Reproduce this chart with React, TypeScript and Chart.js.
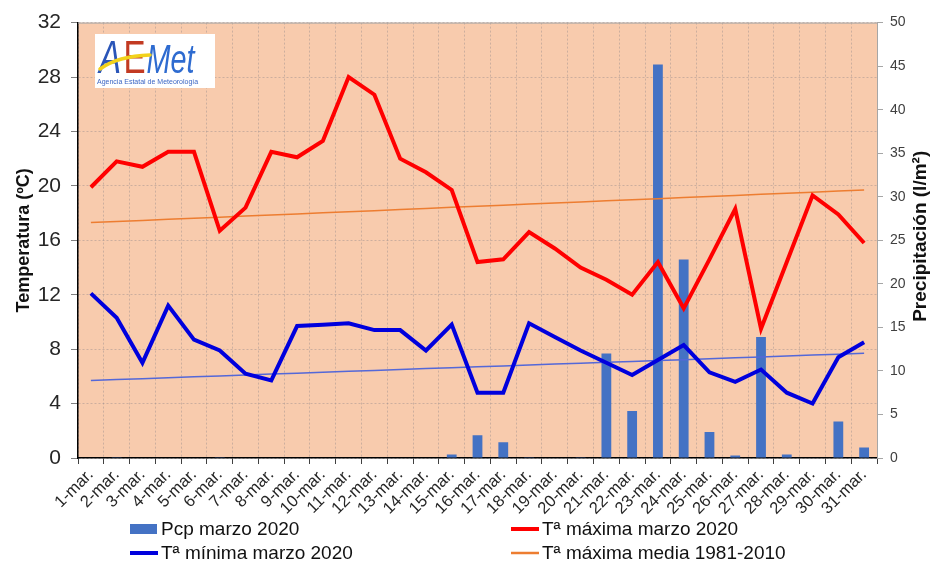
import React, { useEffect, useRef } from 'react';
import { Chart, registerables } from 'chart.js';

Chart.register(...registerables);

const days = [
  '1-mar.', '2-mar.', '3-mar.', '4-mar.', '5-mar.', '6-mar.', '7-mar.', '8-mar.', '9-mar.', '10-mar.',
  '11-mar.', '12-mar.', '13-mar.', '14-mar.', '15-mar.', '16-mar.', '17-mar.', '18-mar.', '19-mar.', '20-mar.',
  '21-mar.', '22-mar.', '23-mar.', '24-mar.', '25-mar.', '26-mar.', '27-mar.', '28-mar.', '29-mar.', '30-mar.', '31-mar.',
];

const precip = [
  0, 0.1, 0, 0, 0, 0.1, 0, 0, 0, 0,
  0, 0, 0, 0, 0.4, 2.6, 1.8, 0.1, 0, 0.1,
  12.0, 5.4, 45.2, 22.8, 3.0, 0.3, 13.9, 0.4, 0, 4.2, 1.2,
];

const tmax = [
  19.9, 21.8, 21.4, 22.5, 22.5, 16.7, 18.4, 22.5, 22.1, 23.3,
  28.0, 26.7, 22.0, 21.0, 19.7, 14.4, 14.6, 16.6, 15.4, 14.0,
  13.1, 12.0, 14.4, 11.0, 14.6, 18.3, 9.5, 14.4, 19.3, 17.9, 15.8,
];

const tmin = [
  12.1, 10.3, 7.0, 11.2, 8.7, 7.9, 6.2, 5.7, 9.7, 9.8,
  9.9, 9.4, 9.4, 7.9, 9.8, 4.8, 4.8, 9.9, 8.9, 7.9,
  7.0, 6.1, 7.2, 8.3, 6.3, 5.6, 6.5, 4.8, 4.0, 7.4, 8.5,
];

const tmaxMean = [
  17.30, 17.38, 17.46, 17.54, 17.62, 17.70, 17.78, 17.86, 17.94, 18.02,
  18.10, 18.18, 18.26, 18.34, 18.42, 18.50, 18.58, 18.66, 18.74, 18.82,
  18.90, 18.98, 19.06, 19.14, 19.22, 19.30, 19.38, 19.46, 19.54, 19.62, 19.70,
];

const tminMean = [
  5.70, 5.77, 5.83, 5.90, 5.97, 6.03, 6.10, 6.17, 6.23, 6.30,
  6.37, 6.43, 6.50, 6.57, 6.63, 6.70, 6.77, 6.83, 6.90, 6.97,
  7.03, 7.10, 7.17, 7.23, 7.30, 7.37, 7.43, 7.50, 7.57, 7.63, 7.70,
];

const tempRange = { min: 0, max: 32, step: 4 };
const precipRange = { min: 0, max: 50, step: 5 };
const rightTitle = 'Precipitación (l/m²)';

const FONT = "Arial, 'Liberation Sans', sans-serif";

const plotBgPlugin = {
  id: 'plotBg',
  beforeDraw(chart: any) {
    const { ctx, chartArea } = chart;
    ctx.save();
    ctx.fillStyle = '#F8CBAD';
    ctx.fillRect(chartArea.left, chartArea.top, chartArea.right - chartArea.left, chartArea.bottom - chartArea.top);
    ctx.restore();
  },
  beforeDatasetsDraw(chart: any) {
    const { ctx, chartArea } = chart;
    ctx.save();
    ctx.strokeStyle = '#A6A6A6';
    ctx.lineWidth = 1;
    ctx.beginPath();
    ctx.moveTo(chartArea.left, chartArea.top + 0.5);
    ctx.lineTo(chartArea.right, chartArea.top + 0.5);
    ctx.stroke();
    ctx.restore();
  },
};

const rightTitlePlugin = {
  id: 'rightTitle',
  afterDraw(chart: any) {
    const { ctx, chartArea } = chart;
    ctx.save();
    ctx.translate(921, (chartArea.top + chartArea.bottom) / 2 - 4);
    ctx.rotate(-Math.PI / 2);
    ctx.font = `bold 19px ${FONT}`;
    ctx.fillStyle = '#111111';
    ctx.textAlign = 'center';
    ctx.textBaseline = 'middle';
    ctx.fillText(rightTitle, 0, 0);
    ctx.restore();
  },
};

const logoPlugin = {
  id: 'logo',
  afterDraw(chart: any) {
    const { ctx } = chart;
    ctx.save();
    ctx.fillStyle = '#FFFFFF';
    ctx.fillRect(95, 34, 120, 54);
    ctx.textBaseline = 'alphabetic';
    ctx.save();
    ctx.translate(99, 73);
    ctx.scale(0.72, 1);
    ctx.fillStyle = '#2A55B8';
    ctx.font = `italic 46px ${FONT}`;
    ctx.fillText('A', 0, 0);
    ctx.fillStyle = '#C23A22';
    ctx.font = `46px ${FONT}`;
    ctx.fillText('E', 34, 0);
    ctx.fillStyle = '#2E6BD0';
    ctx.font = `italic 40px ${FONT}`;
    ctx.fillText('Met', 66, 0);
    ctx.restore();
    ctx.strokeStyle = '#F2D21B';
    ctx.lineWidth = 3.5;
    ctx.lineCap = 'round';
    ctx.beginPath();
    ctx.moveTo(100, 69);
    ctx.quadraticCurveTo(118, 56, 150, 55);
    ctx.stroke();
    ctx.fillStyle = '#3C66C4';
    ctx.font = `7px ${FONT}`;
    ctx.fillText('Agencia Estatal de Meteorología', 97, 84);
    ctx.restore();
  },
};

const legendPlugin = {
  id: 'customLegend',
  afterDraw(chart: any) {
    const { ctx } = chart;
    const ds = chart.data.datasets;
    const items = [
      { d: ds[0], kind: 'box', x: 130, y: 529 },
      { d: ds[1], kind: 'line', x: 511, y: 529 },
      { d: ds[2], kind: 'line', x: 130, y: 553 },
      { d: ds[3], kind: 'line', x: 511, y: 553 },
    ];
    ctx.save();
    ctx.font = `19px ${FONT}`;
    ctx.textBaseline = 'middle';
    ctx.textAlign = 'left';
    for (const it of items) {
      if (it.kind === 'box') {
        ctx.fillStyle = it.d.backgroundColor;
        ctx.fillRect(it.x, it.y - 5, 27, 10);
      } else {
        ctx.strokeStyle = it.d.borderColor;
        ctx.lineWidth = it.d.borderWidth >= 3 ? 4 : 2.5;
        ctx.beginPath();
        ctx.moveTo(it.x, it.y);
        ctx.lineTo(it.x + 28, it.y);
        ctx.stroke();
      }
      ctx.fillStyle = '#111111';
      ctx.fillText(it.d.label, it.x + 31, it.y + 1);
    }
    ctx.restore();
  },
};

export default function App() {
  const canvasRef = useRef<HTMLCanvasElement | null>(null);

  useEffect(() => {
    if (!canvasRef.current) return;
    const gridColor = 'rgba(150,140,140,0.45)';
    const chart = new Chart(canvasRef.current, {
      type: 'bar',
      data: {
        labels: days,
        datasets: [
          {
            type: 'bar',
            label: 'Pcp marzo 2020',
            data: precip,
            backgroundColor: '#4472C4',
            yAxisID: 'y1',
            barPercentage: 0.38,
            categoryPercentage: 1,
            order: 10,
          },
          {
            type: 'line',
            label: 'Tª máxima marzo 2020',
            data: tmax,
            borderColor: '#FF0000',
            borderWidth: 4,
            pointRadius: 0,
            tension: 0,
            yAxisID: 'y',
            order: 2,
          },
          {
            type: 'line',
            label: 'Tª mínima marzo 2020',
            data: tmin,
            borderColor: '#0000DD',
            borderWidth: 4,
            pointRadius: 0,
            tension: 0,
            yAxisID: 'y',
            order: 1,
          },
          {
            type: 'line',
            label: 'Tª máxima media 1981-2010',
            data: tmaxMean,
            borderColor: '#ED7D31',
            borderWidth: 1.5,
            pointRadius: 0,
            tension: 0,
            yAxisID: 'y',
            order: 4,
          },
          {
            type: 'line',
            label: 'Tª mínima media 1981-2010',
            data: tminMean,
            borderColor: '#5468D8',
            borderWidth: 1.5,
            pointRadius: 0,
            tension: 0,
            yAxisID: 'y',
            order: 3,
          },
        ],
      },
      options: {
        responsive: false,
        animation: false,
        devicePixelRatio: 1,
        layout: { padding: { top: 22, left: 0, right: 0, bottom: 0 } },
        plugins: {
          legend: { display: false },
          tooltip: { enabled: false },
        },
        scales: {
          x: {
            offset: true,
            grid: {
              offset: true,
              color: gridColor,
              tickColor: '#404040',
              tickLength: 6,
            },
            border: { color: '#000000', width: 1.5, dash: [2, 2] },
            ticks: {
              autoSkip: false,
              maxRotation: 45,
              minRotation: 45,
              padding: 1,
              color: '#262626',
              font: { family: FONT, size: 16.5 },
            },
            afterFit(scale: any) {
              scale.height = 104;
            },
          },
          y: {
            position: 'left',
            min: tempRange.min,
            max: tempRange.max,
            ticks: {
              stepSize: tempRange.step,
              color: '#262626',
              padding: 10,
              font: { family: FONT, size: 21 },
            },
            grid: {
              color: gridColor,
              tickColor: '#808080',
              tickLength: 7,
            },
            border: { color: '#000000', width: 1.5, dash: [2, 2] },
            title: {
              display: true,
              text: 'Temperatura (ºC)',
              color: '#111111',
              font: { family: FONT, size: 18, weight: 'bold' },
              padding: { top: 13, bottom: 0 },
            },
            afterFit(scale: any) {
              scale.width = 78;
            },
          },
          y1: {
            position: 'right',
            min: precipRange.min,
            max: precipRange.max,
            ticks: {
              stepSize: precipRange.step,
              color: '#404040',
              padding: 7,
              font: { family: FONT, size: 14 },
            },
            grid: {
              drawOnChartArea: false,
              color: '#A6A6A6',
              tickColor: '#A6A6A6',
              tickLength: 6,
            },
            border: { color: '#A6A6A6', width: 1 },
            title: { display: false },
            afterFit(scale: any) {
              scale.width = 54;
            },
          },
        },
      },
      plugins: [plotBgPlugin, logoPlugin, legendPlugin, rightTitlePlugin],
    } as any);
    return () => chart.destroy();
  }, []);

  return (
    <div style={{ position: 'fixed', left: 0, top: 0, width: 931, height: 562, background: '#FFFFFF' }}>
      <canvas ref={canvasRef} width={931} height={562} style={{ display: 'block' }} />
    </div>
  );
}
